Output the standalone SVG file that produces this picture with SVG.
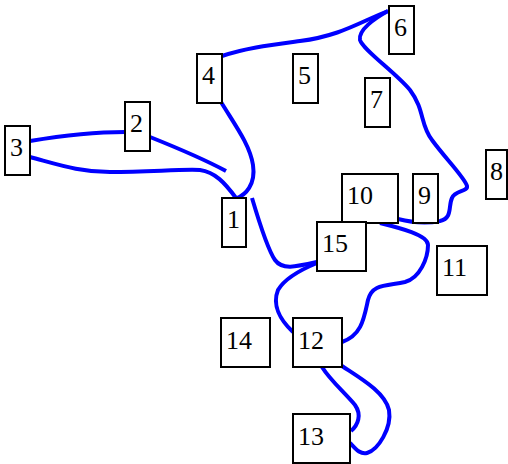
<svg xmlns="http://www.w3.org/2000/svg" width="508" height="464" viewBox="0 0 508 464">
<style>
.n rect{fill:#fff;stroke:#000;stroke-width:2}
.n text{font-family:"Liberation Serif","Times New Roman",Times,serif;font-size:26px;fill:#000}
.e path{fill:none;stroke:#0000ff;stroke-width:4;stroke-linecap:butt}
</style>
<rect width="508" height="464" fill="#fff"/>
<g class="e" id="connectors">
<path d="M30,141 C60,136 100,132 125,132"/>
<path d="M30,157 C60,165 80,172 110,172 C150,172 180,169 200,170 C215,172 225,183 236,198"/>
<path d="M150,137 C170,145 200,157 226,171"/>
<path d="M221,102 C235,125 250,145 253,165 C256,185 245,195 237,198"/>
<path d="M222,56 C245,48 270,45 300,41 C340,36 360,22 388,11"/>
<path d="M388,11 C375,18 358,30 360,40 C363,50 395,72 410,90 C425,110 420,125 432,140 C445,158 465,178 467,186 C468,192 455,190 452,198 C448,206 453,218 440,221 C425,224 410,222 398,219"/>
<path d="M252,198 C260,225 268,250 275,260 C282,270 295,267 317,262"/>
<path d="M317,263 C300,270 285,278 278,290 C272,305 280,320 293,332"/>
<path d="M380,223 C400,228 428,235 428,245 C428,258 420,278 405,282 C385,286 372,284 368,300 C364,318 362,335 342,342"/>
<path d="M322,367 C330,380 345,393 355,405 C362,415 358,425 351,431"/>
<path d="M342,366 C360,378 385,392 389,410 C392,428 378,450 367,453 C360,455 355,448 350,443"/>
</g>
<g class="n" id="n1"><rect x="222" y="198" width="24" height="49"/><text x="227" y="228">1</text></g>
<g class="n" id="n2"><rect x="125" y="102" width="25" height="49"/><text x="130" y="132">2</text></g>
<g class="n" id="n3"><rect x="5" y="126" width="25" height="49"/><text x="10" y="156">3</text></g>
<g class="n" id="n4"><rect x="197" y="54" width="25" height="49"/><text x="202" y="84">4</text></g>
<g class="n" id="n5"><rect x="293" y="54" width="25" height="49"/><text x="298" y="84">5</text></g>
<g class="n" id="n6"><rect x="389" y="6" width="25" height="48"/><text x="394" y="36">6</text></g>
<g class="n" id="n7"><rect x="365" y="78" width="25" height="49"/><text x="370" y="108">7</text></g>
<g class="n" id="n8"><rect x="486" y="150" width="21" height="49"/><text x="490" y="180">8</text></g>
<g class="n" id="n9"><rect x="413" y="174" width="25" height="49"/><text x="418" y="204">9</text></g>
<g class="n" id="n10"><rect x="342" y="174" width="56" height="49"/><text x="347" y="204">10</text></g>
<g class="n" id="n15"><rect x="317" y="222" width="49" height="49"/><text x="322" y="252">15</text></g>
<g class="n" id="n11"><rect x="437" y="246" width="50" height="49"/><text x="442" y="276">11</text></g>
<g class="n" id="n14"><rect x="221" y="318" width="49" height="49"/><text x="226" y="349">14</text></g>
<g class="n" id="n12"><rect x="293" y="318" width="49" height="49"/><text x="298" y="349">12</text></g>
<g class="n" id="n13"><rect x="293" y="414" width="57" height="49"/><text x="298" y="445">13</text></g>
</svg>
